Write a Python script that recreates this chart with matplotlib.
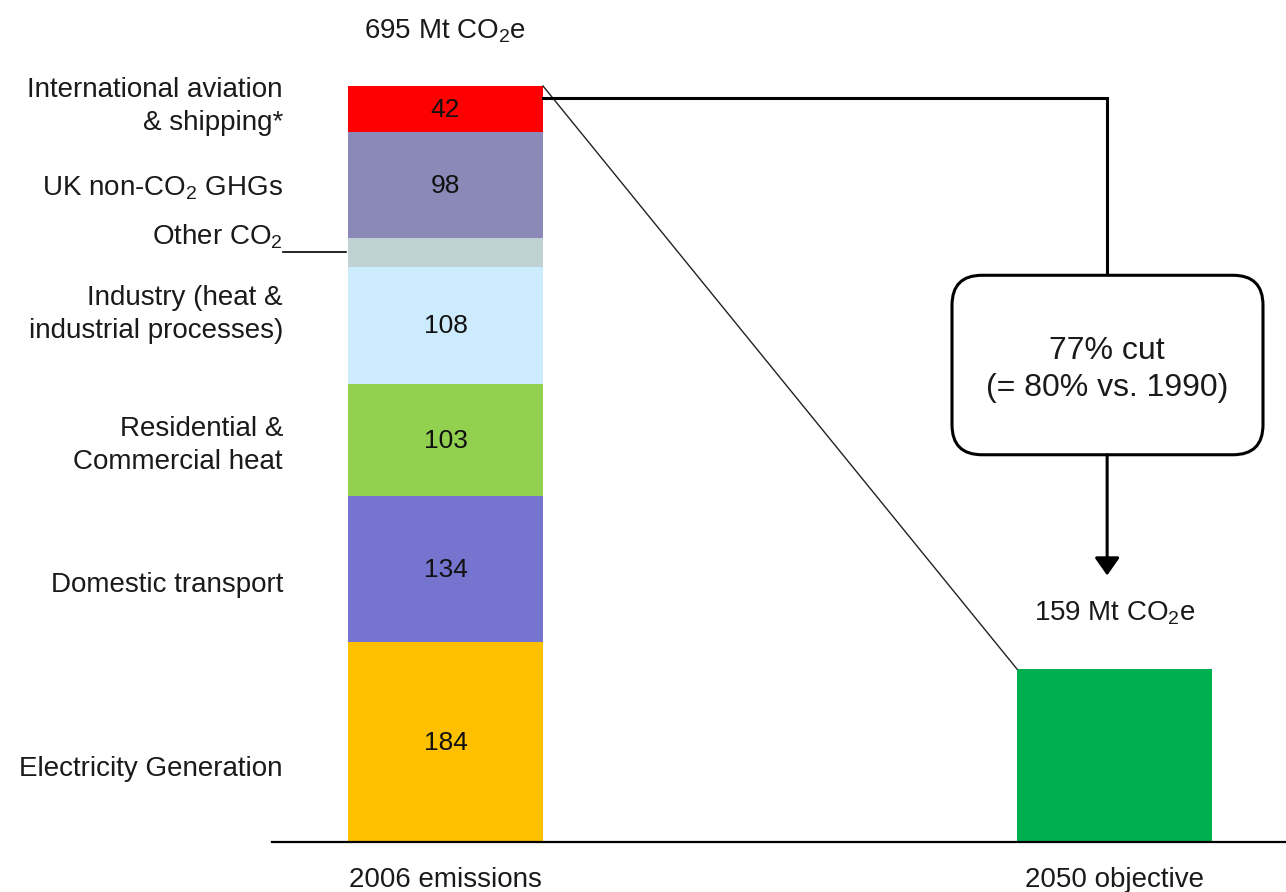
import matplotlib
matplotlib.use("Agg")
import matplotlib.pyplot as plt
from matplotlib.patches import FancyBboxPatch

plt.rcParams['font.family'] = ['Liberation Sans', 'DejaVu Sans']
plt.rcParams['mathtext.fontset'] = 'custom'
plt.rcParams['mathtext.rm'] = 'Liberation Sans'
plt.rcParams['mathtext.it'] = 'Liberation Sans'

# ---- data ----
sectors = ["Electricity Generation", "Domestic transport", "Residential &\nCommercial heat",
           "Industry (heat &\nindustrial processes)", "Other CO$_2$",
           "UK non-CO$_2$ GHGs", "International aviation\n& shipping*"]
values_2006 = [184, 134, 103, 108, 26, 98, 42]
show_value = [True, True, True, True, False, True, True]
colors_2006 = ["#FFC000", "#7575D0", "#92D050", "#CCEBFD", "#C0D1D4", "#8A89B7", "#FF0000"]
total_2006 = 695
value_2050 = 159
color_2050 = "#00B050"
bar_labels = ["2006 emissions", "2050 objective"]
cut_text = "77% cut\n(= 80% vs. 1990)"
# label vertical offsets (data units) relative to segment centres
label_offsets = [-25, -15, -5, 10, 14, -3, 2]

# ---- figure ----
W, H = 1286, 892
fig = plt.figure(figsize=(W / 100, H / 100), dpi=100)
ax = fig.add_axes([0, 0, 1, 1])
ppx = 669.0          # pixels per x unit
ppy = 756.0 / 695.0  # pixels per y unit
x0_px, base_px = 445.5, 50.0
ax.set_xlim(-x0_px / ppx, (W - x0_px) / ppx)
ax.set_ylim(-base_px / ppy, (H - base_px) / ppy)
ax.axis('off')

txt = '#1a1a1a'
bw = 195 / ppx
bottom = 0
for v, c, lab, sv, off in zip(values_2006, colors_2006, sectors, show_value, label_offsets):
    ax.bar(0, v, width=bw, bottom=bottom, color=c, edgecolor='none', zorder=2)
    mid = bottom + v / 2
    if sv:
        ax.text(0, mid - 1, str(v), ha='center', va='center', fontsize=19, color='#111111', zorder=3)
    ax.text(-0.243, mid + off, lab, ha='right', va='center', fontsize=20,
            color=txt, linespacing=1.32)
    if not sv:
        ax.plot([-0.243, -bw / 2 - 0.003], [mid, mid], color='black', lw=1.2)
    bottom += v

ax.bar(1, value_2050, width=bw, color=color_2050, edgecolor='none', zorder=2)

# baseline
ax.plot([(272 - x0_px) / ppx, (W - x0_px) / ppx], [0, 0], color='black', lw=1.6, zorder=4)

# totals and category labels
ax.text(0, total_2006 + 50, "695 Mt CO$_2$e", ha='center', va='center', fontsize=20, color=txt)
ax.text(1, value_2050 + 51, "159 Mt CO$_2$e", ha='center', va='center', fontsize=20, color=txt)
for xi, lab in enumerate(bar_labels):
    ax.text(xi, -35, lab, ha='center', va='center', fontsize=20, color=txt)

# thin diagonal line from top of 2006 bar to top of 2050 bar
ax.plot([bw / 2, 1 - bw / 2], [total_2006, value_2050], color='#222222', lw=1.0, zorder=3)

# thick connector to box
xc = 0.989
y_conn = total_2006 - 11
box_top, box_bot = 521, 356
ax.plot([bw / 2, xc, xc], [y_conn, y_conn, box_top], color='black', lw=2.2,
        solid_joinstyle='miter', zorder=3)

# rounded box
bx0, bx1 = (952 - x0_px) / ppx, (1263 - x0_px) / ppx
r = 30 / ppx
box = FancyBboxPatch((bx0, box_bot), bx1 - bx0, box_top - box_bot,
                     boxstyle=f"round,pad=0,rounding_size={r}",
                     mutation_aspect=(30 / ppy) / r,
                     facecolor='white', edgecolor='black', lw=2.2, zorder=4)
ax.add_patch(box)
ax.text(xc, (box_top + box_bot) / 2 - 4, cut_text, ha='center', va='center',
        fontsize=23, color=txt, linespacing=1.32, zorder=5)

# arrow down to 2050 value
ax.annotate("", xy=(xc, value_2050 + 86), xytext=(xc, box_bot),
            arrowprops=dict(arrowstyle='-|>,head_length=0.6,head_width=0.42',
                            color='black', lw=2.2, mutation_scale=18,
                            shrinkA=0, shrinkB=0), zorder=5)

fig.savefig("out.png", dpi=100, facecolor='white')
